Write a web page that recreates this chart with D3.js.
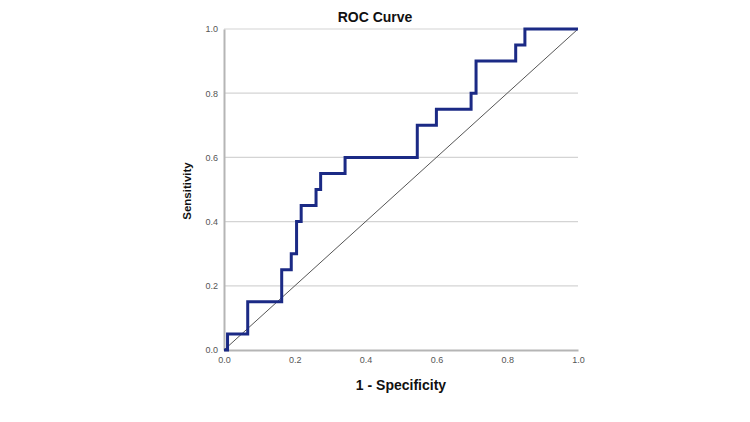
<!DOCTYPE html>
<html><head><meta charset="utf-8">
<script src="https://cdn.jsdelivr.net/npm/d3@7"></script>
<style>body{margin:0;background:#fff;} svg{display:block;}</style>
</head><body>
<svg id="c" width="750" height="422"></svg>
<script>
const fpr = [0, 0.010, 0.067, 0.163, 0.190, 0.205, 0.218, 0.260, 0.273, 0.342, 0.546, 0.600, 0.698, 0.712, 0.824, 0.850, 1.000];
const tpr = [0, 0.05, 0.15, 0.25, 0.30, 0.40, 0.45, 0.50, 0.55, 0.60, 0.70, 0.75, 0.80, 0.90, 0.95, 1.00, 1.00];
const refLine = [0, 1];
const ticks = [0, 0.2, 0.4, 0.6, 0.8, 1.0];
const tickLabels = ["0.0", "0.2", "0.4", "0.6", "0.8", "1.0"];
const title = "ROC Curve", xTitle = "1 - Specificity", yTitle = "Sensitivity";

const svg = d3.select("#c");
const font = "'Liberation Sans', Arial, sans-serif";
const x = d3.scaleLinear().domain([0, 1]).range([224, 578]);
const y = d3.scaleLinear().domain([0, 1]).range([350, 29]);

// gridlines
svg.append("g").selectAll("line").data(ticks.slice(1)).join("line")
  .attr("x1", x(0)).attr("x2", x(1)).attr("y1", d => y(d)).attr("y2", d => y(d))
  .attr("stroke", "#d4d4d4").attr("stroke-width", 1.2);

// axes
const xAxis = d3.axisBottom(x).tickValues(ticks).tickFormat((d, i) => tickLabels[i]).tickSize(0).tickPadding(7);
const yAxis = d3.axisLeft(y).tickValues(ticks).tickFormat((d, i) => tickLabels[i]).tickSize(0).tickPadding(6);
const gx = svg.append("g").attr("transform", `translate(0,${y(0)})`).call(xAxis);
const gy = svg.append("g").attr("transform", `translate(${x(0)},0)`).call(yAxis);
[gx, gy].forEach(g => {
  g.select(".domain").attr("stroke", "#b5b5b5").attr("stroke-width", 2);
  g.selectAll("text").attr("font-family", font).attr("font-size", 9).attr("fill", "#555");
});

// reference diagonal
svg.append("line")
  .attr("x1", x(refLine[0])).attr("y1", y(refLine[0]))
  .attr("x2", x(refLine[1])).attr("y2", y(refLine[1]))
  .attr("stroke", "#555").attr("stroke-width", 1);

// ROC curve
const pts = fpr.map((f, i) => [f, tpr[i]]);
svg.append("path").datum(pts)
  .attr("d", d3.line().x(d => x(d[0])).y(d => y(d[1])).curve(d3.curveStepAfter))
  .attr("fill", "none").attr("stroke", "#1b2a85").attr("stroke-width", 3);

// titles
svg.append("text").attr("x", 375).attr("y", 22).attr("text-anchor", "middle")
  .attr("font-family", font).attr("font-weight", "bold").attr("font-size", 14).attr("fill", "#111").text(title);
svg.append("text").attr("x", 401).attr("y", 390).attr("text-anchor", "middle")
  .attr("font-family", font).attr("font-weight", "bold").attr("font-size", 14).attr("fill", "#111").text(xTitle);
svg.append("text").attr("transform", "translate(191,191) rotate(-90)").attr("text-anchor", "middle")
  .attr("font-family", font).attr("font-weight", "bold").attr("font-size", 11.5).attr("fill", "#111").text(yTitle);
</script>
</body></html>
